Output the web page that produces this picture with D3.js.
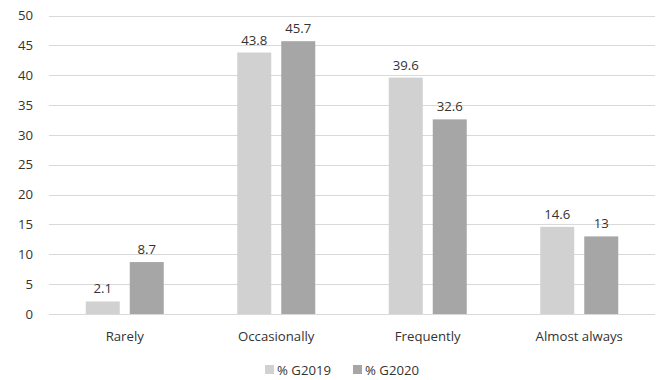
<!DOCTYPE html>
<html><head><meta charset="utf-8">
<script src="https://cdn.jsdelivr.net/npm/d3@7/dist/d3.min.js"></script>
<style>body{margin:0;background:#fff}svg{display:block}</style>
</head><body>
<svg id="c" width="662" height="380"></svg>
<script>
const categories = ["Rarely", "Occasionally", "Frequently", "Almost always"];
const seriesNames = ["% G2019", "% G2020"];
const g2019 = [2.1, 43.8, 39.6, 14.6];
const g2020 = [8.7, 45.7, 32.6, 13];
const yTicks = [0, 5, 10, 15, 20, 25, 30, 35, 40, 45, 50];
const colors = ["#d0d1d0", "#a6a6a6"];

const svg = d3.select("#c");
const font = "'Open Sans', sans-serif";
const fs = 13.2;
const txt = "#333333";
const plotL = 49, plotR = 655, plotT = 15.5, plotB = 314;
const x = d3.scaleBand().domain(categories).range([plotL, plotR]);
const y = d3.scaleLinear().domain([0, 50]).range([plotB, plotT]);
const barW = 34, gap = 10;
const xs = d3.scaleOrdinal().domain(seriesNames).range([-gap/2 - barW, gap/2]);

svg.append("g").selectAll("line").data(yTicks).join("line")
  .attr("x1", plotL).attr("x2", plotR)
  .attr("y1", d => Math.round(y(d)) + 0.5).attr("y2", d => Math.round(y(d)) + 0.5)
  .attr("stroke", "#d9d9d9").attr("stroke-width", 1);

svg.append("g").selectAll("text").data(yTicks).join("text")
  .attr("x", 33).attr("y", d => y(d)).attr("dy", "0.35em")
  .attr("text-anchor", "end").attr("font-family", font).attr("font-size", fs)
  .attr("fill", txt).text(d => d);

const series = [g2019, g2020];
series.forEach((vals, si) => {
  const g = svg.append("g");
  const data = categories.map((c, i) => ({c, v: vals[i]}));
  g.selectAll("rect").data(data).join("rect")
    .attr("x", d => x(d.c) + x.bandwidth()/2 + xs(seriesNames[si]))
    .attr("width", barW)
    .attr("y", d => y(d.v)).attr("height", d => y(0) - y(d.v))
    .attr("fill", colors[si]);
  g.selectAll("text").data(data).join("text")
    .attr("x", d => x(d.c) + x.bandwidth()/2 + xs(seriesNames[si]) + barW/2)
    .attr("y", d => y(d.v) - 8)
    .attr("text-anchor", "middle").attr("font-family", font).attr("font-size", fs)
    .attr("fill", txt).text(d => d.v);
});

svg.append("g").selectAll("text").data(categories).join("text")
  .attr("x", d => x(d) + x.bandwidth()/2).attr("y", 341)
  .attr("text-anchor", "middle").attr("font-family", font).attr("font-size", fs)
  .attr("fill", txt).text(d => d);

const legX = [265, 353];
const lg = svg.append("g");
seriesNames.forEach((n, i) => {
  lg.append("rect").attr("x", legX[i]).attr("y", 365).attr("width", 9).attr("height", 9).attr("fill", colors[i]);
  lg.append("text").attr("x", legX[i] + 12).attr("y", 374.5).attr("font-family", font).attr("font-size", fs)
    .attr("fill", txt).text(n);
});
</script>
</body></html>
